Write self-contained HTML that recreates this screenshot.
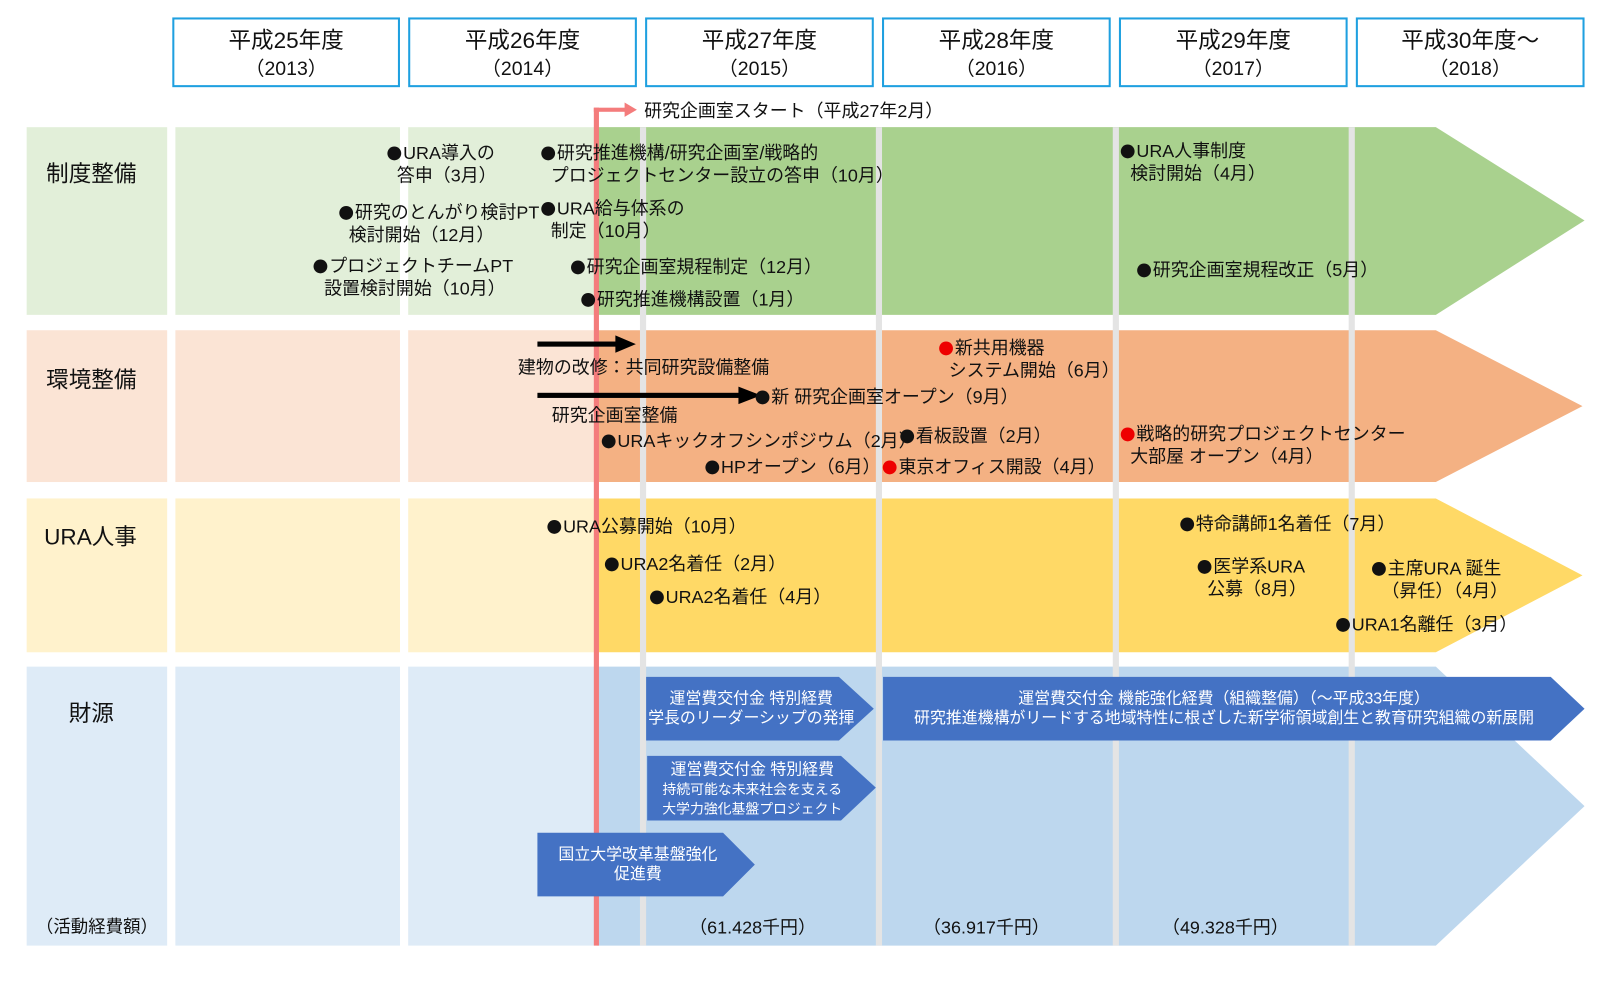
<!DOCTYPE html>
<html><head><meta charset="utf-8"><style>
html,body{margin:0;padding:0;width:1600px;height:1000px;overflow:hidden;background:#fff}
#c{position:absolute;left:0;top:0;width:1560px;height:975px;transform:scale(1.0256);transform-origin:0 0;font-family:"Liberation Sans","Noto Sans CJK JP",sans-serif;color:#111}
.a{position:absolute}
.t{position:absolute;font-size:17.5px;line-height:22px;white-space:nowrap}
.h{position:absolute;top:17px;height:68px;border:2px solid #1fa0e0;box-sizing:border-box;text-align:center;font-size:22px;line-height:26px;padding-top:8px}
.h span{font-size:19px}
i{font-style:normal;font-family:"Noto Sans CJK JP",sans-serif;font-size:15px;margin-right:1px}
.r{color:#e00}
.w{color:#fff;text-align:center;font-size:15.5px;line-height:19px}
.lab{position:absolute;font-size:22px}
</style></head><body><div id="c">
<div class="h" style="left:168px;width:222px">平成25年度<br><span>（2013）</span></div>
<div class="h" style="left:398px;width:223px">平成26年度<br><span>（2014）</span></div>
<div class="h" style="left:629px;width:223px">平成27年度<br><span>（2015）</span></div>
<div class="h" style="left:860px;width:223px">平成28年度<br><span>（2016）</span></div>
<div class="h" style="left:1091px;width:223px">平成29年度<br><span>（2017）</span></div>
<div class="h" style="left:1322px;width:223px">平成30年度～<br><span>（2018）</span></div>

<svg class="a" style="left:0;top:0" width="1560" height="975">
<g fill="#e2efd9"><rect x="26" y="124" width="137" height="183"/><rect x="171" y="124" width="219" height="183"/><rect x="398" y="124" width="184" height="183"/></g>
<polygon points="582,124 1400,124 1545,215 1400,307 582,307" fill="#a9d18e"/>
<g fill="#fbe4d5"><rect x="26" y="322" width="137" height="148"/><rect x="171" y="322" width="219" height="148"/><rect x="398" y="322" width="184" height="148"/></g>
<polygon points="582,322 1400,322 1543,396 1400,470 582,470" fill="#f4b183"/>
<g fill="#fff2cc"><rect x="26" y="486" width="137" height="150"/><rect x="171" y="486" width="219" height="150"/><rect x="398" y="486" width="184" height="150"/></g>
<polygon points="582,486 1400,486 1543,561 1400,636 582,636" fill="#ffd966"/>
<g fill="#deebf7"><rect x="26" y="650" width="137" height="272"/><rect x="171" y="650" width="219" height="272"/><rect x="398" y="650" width="184" height="272"/></g>
<polygon points="582,650 1400,650 1545,786 1400,922 582,922" fill="#bdd7ee"/>
<g fill="#e4e4e4"><rect x="624" y="124" width="6" height="798"/><rect x="854" y="124" width="6" height="798"/><rect x="1085" y="124" width="6" height="798"/><rect x="1315" y="124" width="6" height="798"/></g>
<rect x="579" y="105" width="5" height="817" fill="#f47c7c"/>
<rect x="579" y="105" width="32" height="4" fill="#f47c7c"/>
<polygon points="609,100 621,107 609,114" fill="#f47c7c"/>
<g fill="#000"><rect x="524" y="333" width="80" height="5"/><polygon points="600,327 620,335.5 600,344"/>
<rect x="524" y="383" width="200" height="5"/><polygon points="720,377 742,385.5 720,394"/></g>
<g fill="#4472c4">
<polygon points="630,660 818,660 852,691 818,722 630,722"/>
<polygon points="631,737 820,737 854,768 820,800 631,800"/>
<polygon points="524,812 705,812 736,843 705,874 524,874"/>
<polygon points="861,660 1512,660 1545,691 1512,722 861,722"/>
</g>
</svg>

<div class="lab" style="left:45px;top:152px">制度整備</div>
<div class="lab" style="left:45px;top:353px">環境整備</div>
<div class="lab" style="left:43px;top:506px">URA人事</div>
<div class="lab" style="left:67px;top:678px">財源</div>
<div class="t" style="left:35px;top:893px;font-size:17px">（活動経費額）</div>

<div class="t" style="left:628px;top:97px">研究企画室スタート（平成27年2月）</div>

<div class="t" style="left:377px;top:138px"><i>●</i>URA導入の</div>
<div class="t" style="left:387px;top:160px">答申（3月）</div>
<div class="t" style="left:330px;top:196px"><i>●</i>研究のとんがり検討PT</div>
<div class="t" style="left:340px;top:218px">検討開始（12月）</div>
<div class="t" style="left:305px;top:248px"><i>●</i>プロジェクトチームPT</div>
<div class="t" style="left:316px;top:270px">設置検討開始（10月）</div>
<div class="t" style="left:527px;top:138px"><i>●</i>研究推進機構/研究企画室/戦略的</div>
<div class="t" style="left:537px;top:160px">プロジェクトセンター設立の答申（10月）</div>
<div class="t" style="left:527px;top:192px"><i>●</i>URA給与体系の</div>
<div class="t" style="left:537px;top:214px">制定（10月）</div>
<div class="t" style="left:556px;top:249px"><i>●</i>研究企画室規程制定（12月）</div>
<div class="t" style="left:566px;top:281px"><i>●</i>研究推進機構設置（1月）</div>
<div class="t" style="left:1092px;top:136px"><i>●</i>URA人事制度</div>
<div class="t" style="left:1102px;top:158px">検討開始（4月）</div>
<div class="t" style="left:1108px;top:252px"><i>●</i>研究企画室規程改正（5月）</div>

<div class="t" style="left:505px;top:347px">建物の改修：共同研究設備整備</div>
<div class="t" style="left:736px;top:376px"><i>●</i>新 研究企画室オープン（9月）</div>
<div class="t" style="left:538px;top:394px">研究企画室整備</div>
<div class="t" style="left:915px;top:328px"><i class="r">●</i>新共用機器</div>
<div class="t" style="left:925px;top:350px">システム開始（6月）</div>
<div class="t" style="left:877px;top:414px"><i>●</i>看板設置（2月）</div>
<div class="t" style="left:586px;top:419px"><i>●</i>URAキックオフシンポジウム（2月）</div>
<div class="t" style="left:687px;top:444px"><i>●</i>HPオープン（6月）</div>
<div class="t" style="left:860px;top:444px"><i class="r">●</i>東京オフィス開設（4月）</div>
<div class="t" style="left:1092px;top:412px"><i class="r">●</i>戦略的研究プロジェクトセンター</div>
<div class="t" style="left:1102px;top:434px">大部屋 オープン（4月）</div>

<div class="t" style="left:533px;top:502px"><i>●</i>URA公募開始（10月）</div>
<div class="t" style="left:589px;top:539px"><i>●</i>URA2名着任（2月）</div>
<div class="t" style="left:633px;top:571px"><i>●</i>URA2名着任（4月）</div>
<div class="t" style="left:1150px;top:500px"><i>●</i>特命講師1名着任（7月）</div>
<div class="t" style="left:1167px;top:541px"><i>●</i>医学系URA</div>
<div class="t" style="left:1177px;top:563px">公募（8月）</div>
<div class="t" style="left:1337px;top:543px"><i>●</i>主席URA 誕生</div>
<div class="t" style="left:1347px;top:565px">（昇任）（4月）</div>
<div class="t" style="left:1302px;top:598px"><i>●</i>URA1名離任（3月）</div>

<div class="t w" style="left:630px;top:672px;width:205px">運営費交付金 特別経費<br>学長のリーダーシップの発揮</div>
<div class="t w" style="left:631px;top:741px;width:205px">運営費交付金 特別経費<br><span style="font-size:13.5px;line-height:18px">持続可能な未来社会を支える<br>大学力強化基盤プロジェクト</span></div>
<div class="t w" style="left:524px;top:824px;width:196px">国立大学改革基盤強化<br>促進費</div>
<div class="t w" style="left:861px;top:672px;width:665px">運営費交付金 機能強化経費（組織整備）（～平成33年度）<br>研究推進機構がリードする地域特性に根ざした新学術領域創生と教育研究組織の新展開</div>

<div class="t" style="left:672px;top:893px;font-size:17.5px">（61.428千円）</div>
<div class="t" style="left:900px;top:893px;font-size:17.5px">（36.917千円）</div>
<div class="t" style="left:1133px;top:893px;font-size:17.5px">（49.328千円）</div>
</div></body></html>
